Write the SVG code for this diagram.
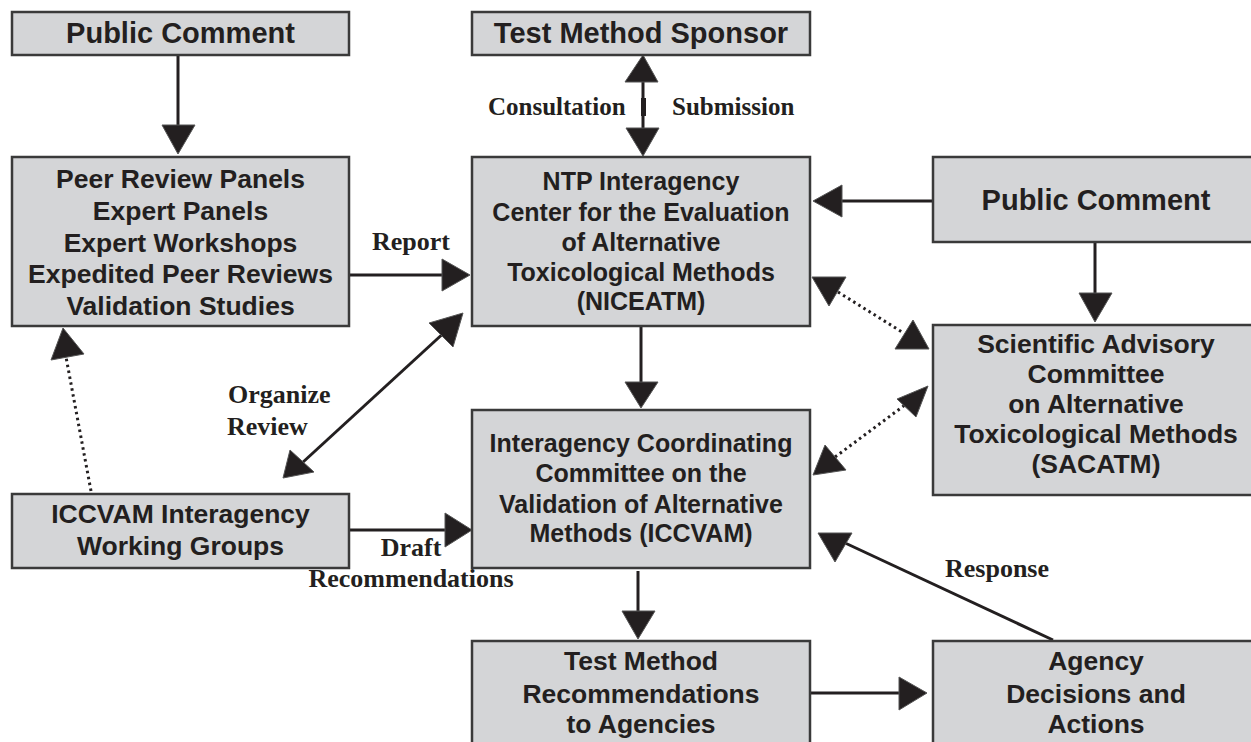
<svg xmlns="http://www.w3.org/2000/svg" width="1251" height="742" viewBox="0 0 1251 742">
<style>
.box{fill:#d4d5d7;stroke:#3a3a3a;stroke-width:2.5}
.nt{font-family:"Liberation Sans",Arial,sans-serif;font-weight:bold;fill:#231f20;text-anchor:middle}
.t29{font-size:29px}
.t26{font-size:26.5px}
.t25{font-size:25px}
.lbl{font-family:"Liberation Serif","Times New Roman",serif;font-weight:bold;fill:#231f20;font-size:26px}
.ln{stroke:#231f20;stroke-width:3;fill:none}
.dot{stroke:#231f20;stroke-width:3;fill:none;stroke-dasharray:2.5 3.5}
.ah{fill:#231f20;stroke:#555;stroke-width:1}
</style>
<rect width="1251" height="742" fill="#ffffff"/>
<g id="connectors">
  <line class="ln" x1="178" y1="55" x2="178" y2="128"/>
  <polygon class="ah" points="162,125 195,125 178,154"/>
  <line class="ln" x1="643" y1="80" x2="643" y2="130"/>
  <rect x="641" y="98" width="5" height="18" fill="#231f20"/>
  <polygon class="ah" points="625,82 658,82 643,55"/>
  <polygon class="ah" points="626,128 659,128 643,156"/>
  <line class="ln" x1="349" y1="275" x2="444" y2="275"/>
  <polygon class="ah" points="442,259 442,291 470,275"/>
  <line class="ln" x1="933" y1="201" x2="840" y2="201"/>
  <polygon class="ah" points="842,185 842,217 813,201"/>
  <line class="ln" x1="1095" y1="242" x2="1095" y2="295"/>
  <polygon class="ah" points="1079,293 1112,293 1095,322"/>
  <line class="ln" x1="641" y1="326" x2="641" y2="384"/>
  <polygon class="ah" points="625,382 658,382 641,408"/>
  <line class="dot" x1="838" y1="292" x2="902" y2="332"/>
  <polygon class="ah" points="812,277 846,277 829,306"/>
  <polygon class="ah" points="913,320 895,349 929,349"/>
  <line class="dot" x1="835" y1="457" x2="905" y2="405"/>
  <polygon class="ah" points="897,399 928,386 916,417"/>
  <polygon class="ah" points="813,475 825,445 846,470"/>
  <line class="dot" x1="91" y1="491" x2="66" y2="357"/>
  <polygon class="ah" points="63,328 51,360 84,354"/>
  <line class="ln" x1="302" y1="463" x2="447" y2="330"/>
  <polygon class="ah" points="463,313 429,323 453,347"/>
  <polygon class="ah" points="283,478 290,450 314,472"/>
  <line class="ln" x1="349" y1="530" x2="447" y2="530"/>
  <polygon class="ah" points="445,513 445,547 472,530"/>
  <line class="ln" x1="638" y1="571" x2="638" y2="613"/>
  <polygon class="ah" points="622,611 655,611 638,639"/>
  <line class="ln" x1="810" y1="693" x2="901" y2="693"/>
  <polygon class="ah" points="899,677 899,710 927,693"/>
  <line class="ln" x1="1053" y1="640" x2="843" y2="542"/>
  <polygon class="ah" points="818,533 852,533 835,562"/>
  <text class="lbl" x="488" y="115" style="font-size:25px">Consultation</text>
  <text class="lbl" x="672" y="115" style="font-size:25px">Submission</text>
  <text class="lbl" x="372" y="250">Report</text>
  <text class="lbl" x="228" y="403">Organize</text>
  <text class="lbl" x="227" y="435">Review</text>
  <text class="lbl" x="411" y="556" text-anchor="middle">Draft</text>
  <text class="lbl" x="411" y="587" text-anchor="middle">Recommendations</text>
  <text class="lbl" x="945" y="577">Response</text>
</g>
<g id="public-comment-1">
  <rect class="box" x="12" y="12" width="337" height="43"/>
  <text class="nt t29" x="180.5" y="43">Public Comment</text>
</g>
<g id="test-method-sponsor">
  <rect class="box" x="472" y="12" width="338" height="43"/>
  <text class="nt t29" x="641" y="43">Test Method Sponsor</text>
</g>
<g id="peer-review">
  <rect class="box" x="12" y="157" width="337" height="169"/>
  <text class="nt t26" x="180.5" y="188">Peer Review Panels</text>
  <text class="nt t26" x="180.5" y="220">Expert Panels</text>
  <text class="nt t26" x="180.5" y="251.5">Expert Workshops</text>
  <text class="nt t26" x="180.5" y="283">Expedited Peer Reviews</text>
  <text class="nt t26" x="180.5" y="315">Validation Studies</text>
</g>
<g id="niceatm">
  <rect class="box" x="472" y="157" width="338" height="169"/>
  <text class="nt t25" x="641" y="190">NTP Interagency</text>
  <text class="nt t25" x="641" y="220.5">Center for the Evaluation</text>
  <text class="nt t25" x="641" y="250.5">of Alternative</text>
  <text class="nt t25" x="641" y="280.5">Toxicological Methods</text>
  <text class="nt t25" x="641" y="310">(NICEATM)</text>
</g>
<g id="public-comment-2">
  <rect class="box" x="933" y="157" width="330" height="85"/>
  <text class="nt t29" x="1096" y="210">Public Comment</text>
</g>
<g id="sacatm">
  <rect class="box" x="933" y="325" width="330" height="170"/>
  <text class="nt t26" x="1096" y="353">Scientific Advisory</text>
  <text class="nt t26" x="1096" y="383">Committee</text>
  <text class="nt t26" x="1096" y="413">on Alternative</text>
  <text class="nt t26" x="1096" y="443">Toxicological Methods</text>
  <text class="nt t26" x="1096" y="473">(SACATM)</text>
</g>
<g id="iccvam">
  <rect class="box" x="472" y="410" width="338" height="158"/>
  <text class="nt t25" x="641" y="452">Interagency Coordinating</text>
  <text class="nt t25" x="641" y="482">Committee on the</text>
  <text class="nt t25" x="641" y="513">Validation of Alternative</text>
  <text class="nt t25" x="641" y="542">Methods (ICCVAM)</text>
</g>
<g id="working-groups">
  <rect class="box" x="12" y="494" width="337" height="74"/>
  <text class="nt t26" x="180.5" y="523">ICCVAM Interagency</text>
  <text class="nt t26" x="180.5" y="555">Working Groups</text>
</g>
<g id="test-method-recommendations">
  <rect class="box" x="472" y="641" width="338" height="115"/>
  <text class="nt t26" x="641" y="670">Test Method</text>
  <text class="nt t26" x="641" y="703">Recommendations</text>
  <text class="nt t26" x="641" y="733">to Agencies</text>
</g>
<g id="agency-decisions">
  <rect class="box" x="933" y="641" width="330" height="115"/>
  <text class="nt t26" x="1096" y="670">Agency</text>
  <text class="nt t26" x="1096" y="703">Decisions and</text>
  <text class="nt t26" x="1096" y="733">Actions</text>
</g>
</svg>
